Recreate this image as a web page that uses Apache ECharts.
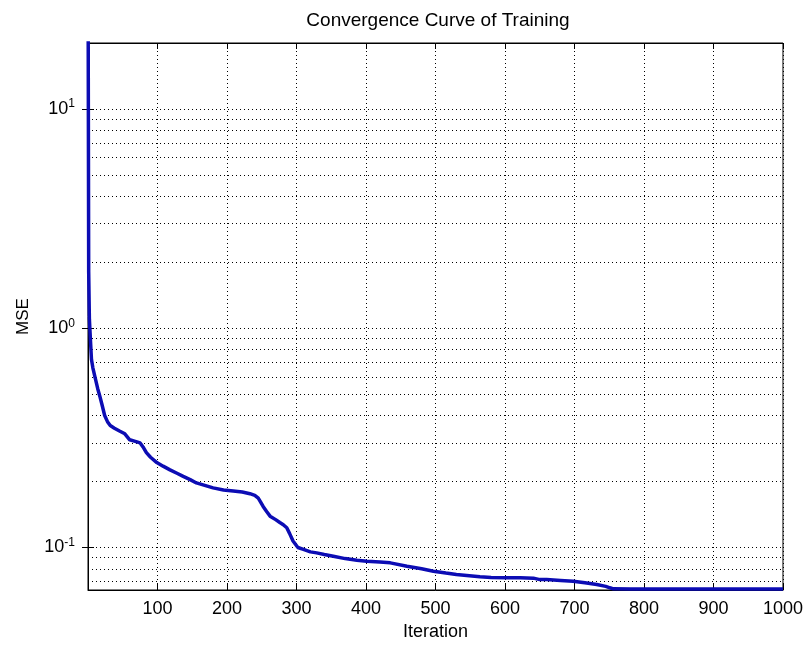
<!DOCTYPE html>
<html>
<head>
<meta charset="utf-8">
<script src="https://cdn.jsdelivr.net/npm/echarts@6/dist/echarts.min.js"></script>
<style>html,body{margin:0;padding:0;background:#fff;}#c{width:806px;height:648px;}</style>
</head>
<body>
<div id="c"></div>
<script>
var titleText = 'Convergence Curve of Training';
var xName = 'Iteration';
var yName = 'MSE';
var xTicks = [0, 100, 200, 300, 400, 500, 600, 700, 800, 900, 1000];
var yMajorTicks = [0.1, 1, 10];
var yMin = 0.064, yMax = 20;
var minorGridValues = [0.07, 0.08, 0.09, 0.2, 0.3, 0.4, 0.5, 0.6, 0.7, 0.8, 0.9, 2, 3, 4, 5, 6, 7, 8, 9];
var iterations = [0,1,2,3,5,7,10,14,17,20,24,28,32,38,46,53,60,68,75,80,84,90,99,108,118,128,137,147,156,168,180,195,209,222,233,240,245,248,252,257,262,270,276,281,286,290,295,302,310,320,329,340,353,370,387,401,420,435,459,480,497,515,530,545,564,580,602,622,641,650,660,680,698,715,732,745,751,756,780,850,900,950,1000];
var mse = [60,1.8,1.1,0.95,0.72,0.66,0.60,0.53,0.49,0.45,0.40,0.375,0.36,0.35,0.339,0.33,0.31,0.305,0.30,0.285,0.271,0.258,0.244,0.235,0.226,0.218,0.211,0.204,0.197,0.192,0.187,0.183,0.181,0.179,0.176,0.173,0.168,0.162,0.154,0.146,0.139,0.134,0.130,0.127,0.123,0.116,0.107,0.100,0.098,0.0955,0.0945,0.093,0.0913,0.089,0.0875,0.0866,0.0858,0.0851,0.0822,0.080,0.078,0.0765,0.0753,0.0745,0.0735,0.0730,0.0727,0.0727,0.0725,0.0714,0.0714,0.0708,0.0702,0.069,0.0678,0.0665,0.0655,0.0648,0.0646,0.0646,0.0646,0.0646,0.0646];

var FONT = '"Liberation Sans", Arial, sans-serif';
var chart = echarts.init(document.getElementById('c'), null, {renderer: 'canvas'});
var pts = iterations.map(function (x, i) { return [x, mse[i]]; });

function yLabel(v) {
  var e = Math.log10(v);
  var r = Math.round(e);
  if (Math.abs(e - r) > 0.01) return '';
  return '{b|10}{s|' + r + '}';
}

var dotted = {color: '#000', width: 1, type: [1, 3]};

chart.setOption({
  animation: false,
  backgroundColor: '#fff',
  title: {
    text: titleText, left: 433, top: 6, textAlign: 'center',
    textStyle: {fontFamily: FONT, fontSize: 19, fontWeight: 'normal', color: '#000'}
  },
  grid: {left: 88, right: 23, top: 43, bottom: 58, show: true, borderColor: '#000', borderWidth: 1, backgroundColor: '#fff'},
  xAxis: [{
    type: 'value', min: xTicks[0], max: xTicks[xTicks.length - 1], interval: 100,
    name: xName, nameLocation: 'middle', nameGap: 33,
    nameTextStyle: {fontFamily: FONT, fontSize: 18, color: '#000'},
    axisLine: {show: true, lineStyle: {color: '#000', width: 1}},
    axisTick: {show: true, inside: true, length: 6, lineStyle: {color: '#000'}},
    axisLabel: {fontFamily: FONT, fontSize: 18, color: '#000', margin: 10,
      formatter: function (v) { return v === 0 ? '' : String(v); }},
    splitLine: {show: true, lineStyle: dotted}
  }, {
    type: 'value', position: 'top', min: xTicks[0], max: xTicks[xTicks.length - 1], interval: 100,
    axisLine: {show: true, lineStyle: {color: '#000', width: 1}},
    axisTick: {show: true, inside: true, length: 6, lineStyle: {color: '#000'}},
    axisLabel: {show: false}, splitLine: {show: false}
  }],
  yAxis: [{
    type: 'log', logBase: 10, min: yMin, max: yMax,
    name: yName, nameLocation: 'middle', nameGap: 56, nameRotate: 90,
    nameTextStyle: {fontFamily: FONT, fontSize: 17, color: '#000'},
    axisLine: {show: true, lineStyle: {color: '#000', width: 1}},
    axisTick: {show: true, inside: true, length: 6, lineStyle: {color: '#000'}, customValues: yMajorTicks},
    axisLabel: {
      margin: 13, formatter: yLabel, customValues: yMajorTicks,
      rich: {
        b: {fontFamily: FONT, fontSize: 18, color: '#000', lineHeight: 22},
        s: {fontFamily: FONT, fontSize: 12, color: '#000', lineHeight: 12, verticalAlign: 'top'}
      }
    },
    splitLine: {show: true, lineStyle: dotted}
  }, {
    type: 'log', logBase: 10, min: yMin, max: yMax, position: 'right',
    axisLine: {show: true, lineStyle: {color: '#000', width: 1}},
    axisTick: {show: true, inside: true, length: 6, lineStyle: {color: '#000'}, customValues: yMajorTicks},
    axisLabel: {show: false}, splitLine: {show: false}
  }],
  series: [{
    type: 'line', xAxisIndex: 0, yAxisIndex: 0, data: pts,
    showSymbol: false, symbol: 'none', clip: true,
    lineStyle: {color: '#0c0cb4', width: 3.5},
    z: 5,
    markLine: {
      silent: true, symbol: ['none', 'none'], label: {show: false},
      lineStyle: dotted, emphasis: {disabled: true},
      animation: false,
      data: minorGridValues.map(function (v) { return {yAxis: v}; })
    }
  }]
});
</script>
</body>
</html>
